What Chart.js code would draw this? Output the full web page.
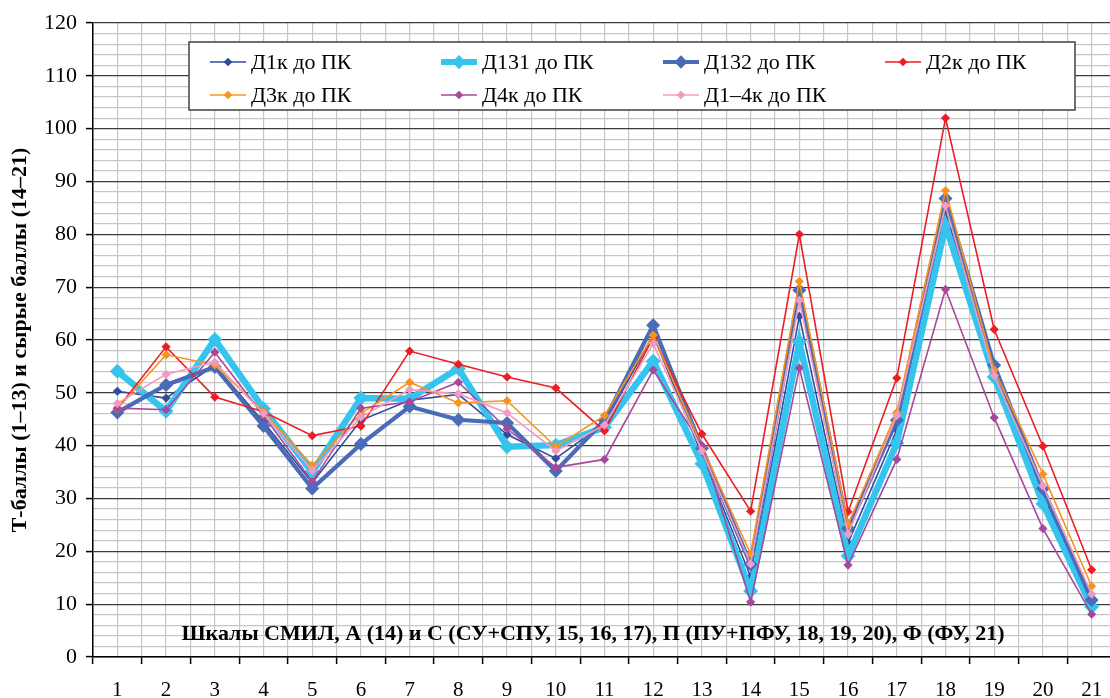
<!DOCTYPE html>
<html>
<head>
<meta charset="utf-8">
<script src="https://cdn.jsdelivr.net/npm/chart.js@4.4.1/dist/chart.umd.min.js"></script>
<style>
  html, body { margin: 0; padding: 0; background: #fff; overflow: hidden; width: 1110px; height: 698px; }
  #wrap { position: absolute; left: 0; top: 0; width: 1130px; height: 698px; }
</style>
</head>
<body>
<div id="wrap"><canvas id="c" width="1130" height="698"></canvas></div>
<script>
// ---- data ----
const categories = ['1','2','3','4','5','6','7','8','9','10','11','12','13','14','15','16','17','18','19','20','21'];
const seriesNames = ['Д1к до ПК','Д131 до ПК','Д132 до ПК','Д2к до ПК','Д3к до ПК','Д4к до ПК','Д1–4к до ПК'];
const d1k   = [50.3, 49.0, 55.2, 44.5, 33.0, 44.8, 48.6, 49.7, 42.1, 37.6, 44.2, 61.0, 38.2, 15.2, 64.5, 21.6, 43.0, 84.2, 54.9, 30.6, 10.5];
const d131  = [54.1, 46.5, 60.1, 47.0, 35.0, 49.0, 48.9, 54.6, 39.8, 40.1, 43.5, 56.0, 36.6, 12.5, 59.6, 19.1, 40.5, 81.7, 53.0, 29.0, 9.5];
const d132  = [46.3, 51.5, 54.9, 43.7, 31.9, 40.3, 47.4, 44.9, 44.3, 35.2, 44.8, 62.8, 39.5, 17.5, 69.4, 24.3, 44.8, 86.8, 55.2, 31.9, 10.8];
const d2k   = [47.0, 58.7, 49.2, 46.4, 41.9, 43.7, 57.9, 55.4, 53.0, 50.9, 42.8, 60.5, 42.2, 27.6, 80.0, 27.5, 52.8, 102.0, 62.0, 39.9, 16.5];
const d3k   = [47.0, 57.2, 55.3, 46.4, 36.3, 46.1, 52.0, 48.1, 48.5, 39.8, 45.7, 60.9, 39.8, 19.5, 71.1, 25.1, 46.3, 88.3, 54.3, 34.6, 13.4];
const d4k   = [47.1, 46.8, 57.7, 45.7, 33.2, 47.1, 48.3, 52.0, 43.2, 35.9, 37.4, 54.3, 40.0, 10.4, 54.7, 17.4, 37.4, 69.6, 45.3, 24.3, 8.1];
const d14k  = [48.0, 53.5, 55.8, 46.1, 35.3, 45.4, 50.6, 49.8, 46.2, 39.0, 43.9, 59.3, 39.0, 17.6, 67.5, 23.3, 45.7, 85.4, 53.3, 32.4, 11.9];
const yTickLabels = ['0','10','20','30','40','50','60','70','80','90','100','110','120'];
const yTitle = 'Т-баллы (1–13) и сырые баллы (14–21)';
const noteText = 'Шкалы СМИЛ, А (14) и С (СУ+СПУ, 15, 16, 17), П (ПУ+ПФУ, 18, 19, 20), Ф (ФУ, 21)';

// ---- styles ----
const seriesValues = [d1k, d131, d132, d2k, d3k, d4k, d14k];
const colors = ['#2F4C9E', '#35C4EE', '#4A6BB7', '#EE1C25', '#F7941D', '#A7489C', '#F39AC3'];
const lineW  = [1.6, 6.5, 4.2, 1.6, 1.6, 1.6, 1.6];
const ptR    = [4.6, 7.5, 7.0, 4.6, 4.6, 4.6, 4.6];
const SERIF = '"Liberation Serif", "Times New Roman", serif';

const datasets = seriesNames.map((name, i) => ({
  label: name,
  data: categories.map((c, k) => ({ x: k + 1, y: seriesValues[i][k] })),
  borderColor: colors[i],
  backgroundColor: colors[i],
  borderWidth: lineW[i],
  pointStyle: 'rectRot',
  pointRadius: ptR[i],
  pointBorderWidth: 0,
  pointBackgroundColor: colors[i],
  tension: 0,
  order: 20 - i
}));

const legendPlugin = {
  id: 'boxLegend',
  afterDraw(chart) {
    const ctx = chart.ctx;
    ctx.save();
    // note text
    ctx.font = 'bold 22px ' + SERIF;
    ctx.fillStyle = '#000';
    ctx.textAlign = 'center';
    ctx.textBaseline = 'middle';
    ctx.fillText(noteText, 593, 634);
    // legend box
    const bx = 189, by = 42, bw = 886, bh = 68;
    ctx.fillStyle = '#fff';
    ctx.fillRect(bx, by, bw, bh);
    ctx.strokeStyle = '#404040';
    ctx.lineWidth = 1.5;
    ctx.strokeRect(bx, by, bw, bh);
    const colX = [210, 441, 663, 885];
    const rowY = [62, 95];
    ctx.font = '22px ' + SERIF;
    ctx.textAlign = 'left';
    seriesNames.forEach((name, i) => {
      const col = i < 4 ? i : i - 4;
      const row = i < 4 ? 0 : 1;
      const x = colX[col], y = rowY[row];
      ctx.strokeStyle = colors[i];
      ctx.lineWidth = lineW[i] * 0.9;
      ctx.beginPath(); ctx.moveTo(x, y); ctx.lineTo(x + 36, y); ctx.stroke();
      const r = ptR[i] * 0.95;
      ctx.fillStyle = colors[i];
      ctx.beginPath();
      ctx.moveTo(x + 18, y - r); ctx.lineTo(x + 18 + r, y); ctx.lineTo(x + 18, y + r); ctx.lineTo(x + 18 - r, y);
      ctx.closePath(); ctx.fill();
      ctx.fillStyle = '#000';
      ctx.fillText(name, x + 41, y + 1);
    });
    ctx.restore();
  }
};

new Chart(document.getElementById('c'), {
  type: 'line',
  data: { datasets },
  options: {
    responsive: false,
    animation: false,
    devicePixelRatio: 1,
    layout: { padding: { top: 23, right: 10, left: 0, bottom: 0 } },
    plugins: { legend: { display: false }, tooltip: { enabled: false } },
    scales: {
      x: {
        type: 'linear',
        min: 0.5, max: 21.5,
        afterBuildTicks: (s) => { const t = []; for (let k = 1; k <= 43; k++) t.push({ value: 0.5 * k }); s.ticks = t; },
        afterFit: (s) => { s.height = 41; },
        grid: {
          color: '#C6C6C6',
          lineWidth: 1.2,
          tickLength: 7,
          tickColor: (c) => (c.tick && Math.round(c.tick.value * 2) % 2 === 1) ? '#000' : 'rgba(0,0,0,0)',
          tickWidth: 1.5
        },
        border: { color: '#000', width: 1.5 },
        ticks: {
          autoSkip: false, maxRotation: 0, minRotation: 0,
          padding: 14,
          color: '#000',
          font: { family: SERIF, size: 21 },
          callback: (v) => Number.isInteger(v) ? categories[v - 1] : ''
        }
      },
      y: {
        min: 0, max: 120,
        afterBuildTicks: (s) => { const t = []; for (let v = 0; v <= 120; v += 2) t.push({ value: v }); s.ticks = t; },
        afterFit: (s) => { s.width = 93; },
        grid: {
          color: (c) => (c.tick && c.tick.value % 10 === 0) ? '#3C3C3C' : '#C6C6C6',
          lineWidth: 1.2,
          tickLength: 7,
          tickColor: (c) => (c.tick && c.tick.value % 10 === 0) ? '#000' : 'rgba(0,0,0,0)',
          tickWidth: 1.5
        },
        border: { color: '#000', width: 1.5 },
        ticks: {
          autoSkip: false,
          padding: 9,
          color: '#000',
          font: { family: SERIF, size: 22 },
          callback: (v) => v % 10 === 0 ? yTickLabels[v / 10] : ''
        },
        title: {
          display: true,
          text: yTitle,
          color: '#000',
          font: { family: SERIF, size: 22, weight: 'bold' },
          padding: { top: 7, bottom: 0 }
        }
      }
    }
  },
  plugins: [legendPlugin]
});
</script>
</body>
</html>
